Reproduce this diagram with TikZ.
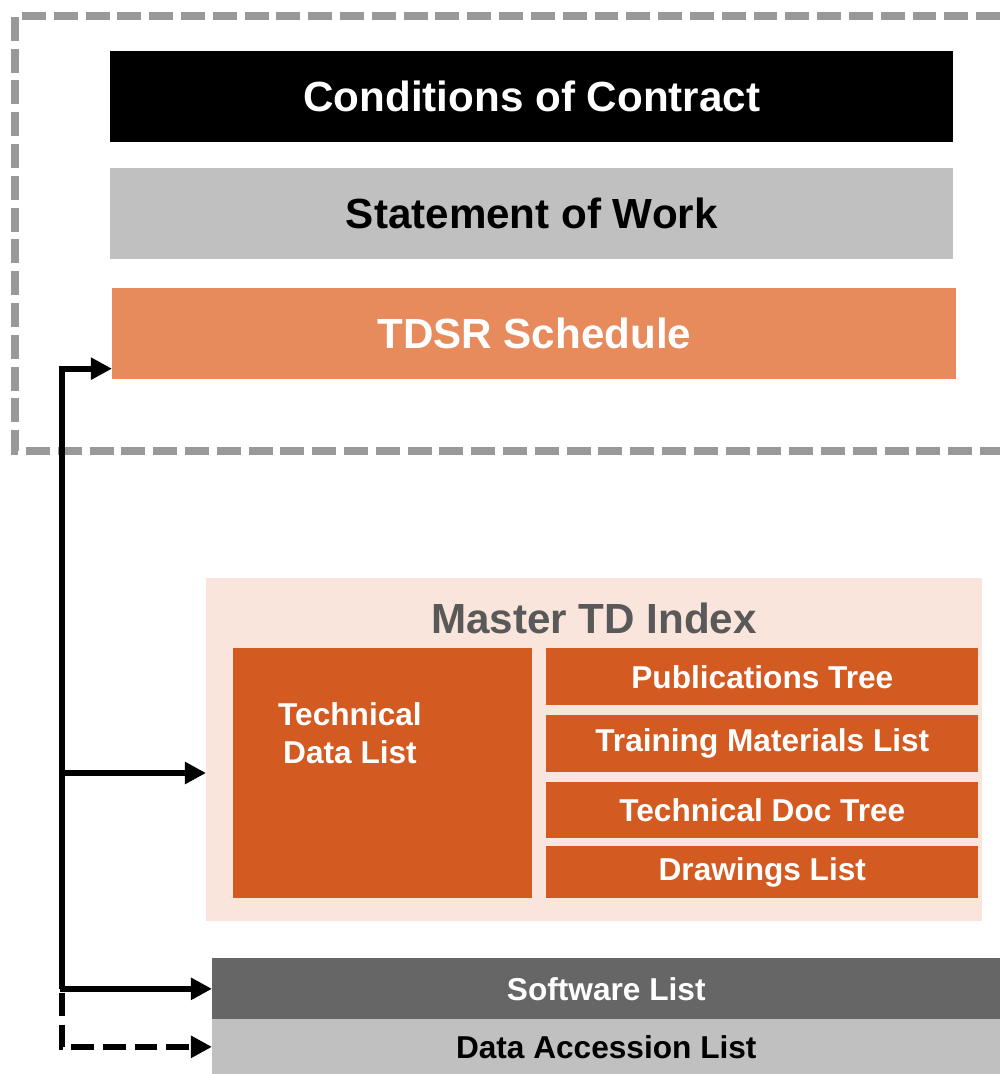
\documentclass[tikz,border=0pt]{standalone}
\usepackage{fontspec}
\setmainfont{Liberation Sans}
\usetikzlibrary{arrows.meta,calc}
\definecolor{framegray}{HTML}{999999}
\definecolor{sowgray}{HTML}{C0C0C0}
\definecolor{tdsrorange}{HTML}{E78B5D}
\definecolor{mtdpink}{HTML}{F9E5DC}
\definecolor{tdorange}{HTML}{D35A21}
\definecolor{swgray}{HTML}{666666}
\definecolor{titlegray}{HTML}{595959}
\begin{document}
\begin{tikzpicture}[x=0.02cm,y=-0.02cm,
  bigbox/.style={rectangle,inner sep=0pt,anchor=north west,minimum width=16.86cm,minimum height=1.82cm,font=\bfseries\fontsize{24}{29}\selectfont},
  subbox/.style={rectangle,inner sep=0pt,anchor=north west,fill=tdorange,text=white,minimum width=8.64cm,font=\bfseries\fontsize{18}{21.5}\selectfont},
  listbox/.style={rectangle,inner sep=0pt,anchor=north west,minimum width=15.76cm,font=\bfseries\fontsize{18}{21.5}\selectfont},
  flow/.style={line width=3.4pt,-{Triangle[length=12pt,width=12pt]}}]
\useasboundingbox (0,0) rectangle (1000,1074);
\draw [framegray,line width=4.5pt,dash pattern=on 13.6pt off 4.5pt] (1000,16) -| (15,451) -- (1000,451);
\node [bigbox,fill=black,text=white] (coc) at (110,51) {Conditions of Contract};
\node [bigbox,fill=sowgray,text=black] (sow) at (110,168) {Statement of Work};
\node [bigbox,fill=tdsrorange,text=white,minimum width=16.88cm] (tdsr) at (112,288) {TDSR Schedule};
\node [rectangle,inner sep=0pt,anchor=north west,fill=mtdpink,minimum width=15.52cm,minimum height=6.86cm] (mtd) at (206,578) {};
\node [text=titlegray,font=\bfseries\fontsize{24}{29}\selectfont] (mtdtitle) at (594,618) {Master TD Index};
\node [subbox,minimum width=5.98cm,minimum height=5cm] (tdl) at (233,648) {};
\node [text=white,align=center,font=\bfseries\fontsize{18}{21.5}\selectfont] (tdltext) at (350,733) {Technical\\Data List};
\node [subbox,minimum height=1.14cm] (pub) at (546,648) {Publications Tree};
\node [subbox,minimum height=1.14cm] (tml) at (546,715) {Training Materials List};
\node [subbox,minimum height=1.12cm] (tdt) at (546,782) {Technical Doc Tree};
\node [subbox,minimum height=1.04cm] (dwg) at (546,846) {Drawings List};
\node [listbox,fill=swgray,text=white,minimum height=1.22cm] (swl) at (212,958) {Software List};
\node [listbox,fill=sowgray,text=black,minimum height=1.1cm] (dal) at (212,1019) {Data Accession List};
\coordinate (dalout) at (62,993);
\coordinate (trunk) at (swl.west -| dalout);
\coordinate (tdsrin) at ($(tdsr.south west)+(0,-11)$);
\coordinate (mtdin) at ($(mtd.north west)+(0,195)$);
\draw [flow] (trunk) |- (tdsrin);
\draw [flow] (trunk |- mtdin) -- (mtdin);
\draw [flow] ($(trunk)+(-1.7,0)$) -- (swl.west);
\draw [flow,dash pattern=on 13pt off 5pt] (dalout) |- (dal.west);
\end{tikzpicture}
\end{document}
